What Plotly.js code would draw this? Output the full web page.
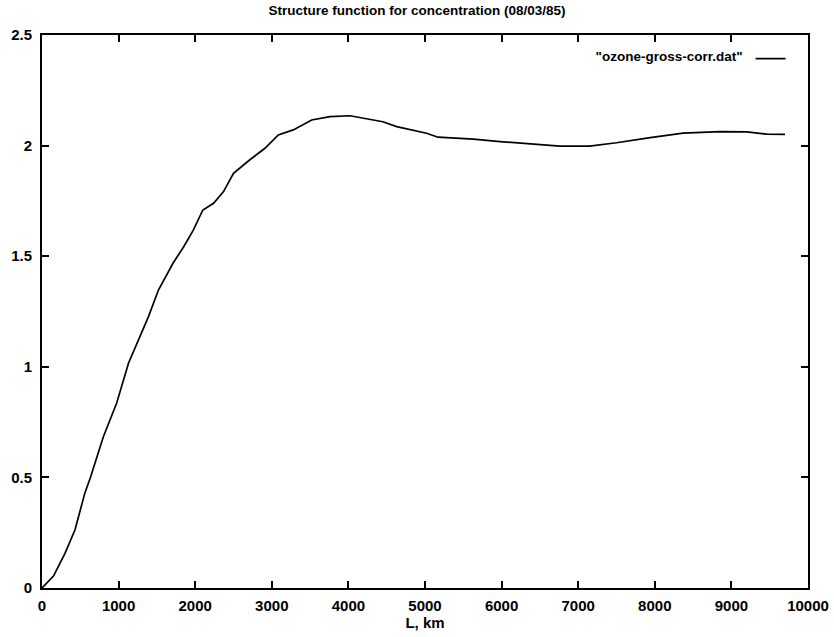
<!DOCTYPE html>
<html>
<head>
<meta charset="utf-8">
<script src="https://cdn.plot.ly/plotly-3.0.1.min.js"></script>
<style>body{margin:0;padding:0;background:#fff}#chart{width:834px;height:637px}</style>
</head>
<body>
<div id="chart"></div>
<script>
// Data
const distanceKm = [0, 150, 300, 430, 560, 630, 800, 975, 1130, 1260, 1390, 1520, 1710, 1850, 1975, 2100, 2240, 2370, 2500, 2710, 2910, 3085, 3280, 3520, 3760, 4020, 4240, 4450, 4630, 4840, 5020, 5170, 5630, 5980, 6410, 6760, 7150, 7500, 7940, 8370, 8850, 9200, 9460, 9700];
const structureFn = [0, 0.054, 0.157, 0.262, 0.43, 0.497, 0.683, 0.836, 1.017, 1.12, 1.227, 1.347, 1.468, 1.543, 1.618, 1.709, 1.739, 1.792, 1.875, 1.935, 1.988, 2.048, 2.071, 2.116, 2.131, 2.135, 2.12, 2.108, 2.086, 2.068, 2.056, 2.038, 2.029, 2.018, 2.007, 1.998, 1.998, 2.013, 2.036, 2.056, 2.063, 2.062, 2.052, 2.051];
const xTicks = [0, 1000, 2000, 3000, 4000, 5000, 6000, 7000, 8000, 9000, 10000];
const yTicks = [0, 0.5, 1, 1.5, 2, 2.5];
const seriesName = '"ozone-gross-corr.dat"';
const titleText = 'Structure function for concentration (08/03/85)';
const xTitle = 'L, km';

const fam = 'Liberation Sans, Arial, sans-serif';
const tickFont = {family: fam, size: 15, color: '#000', weight: 'bold'};
const smallFont = {family: fam, size: 13.5, color: '#000', weight: 'bold'};

const trace = {
  x: distanceKm, y: structureFn, type: 'scatter', mode: 'lines',
  name: '', line: {color: '#000', width: 1.7}, showlegend: true
};

const axisCommon = {
  showgrid: false, zeroline: false, showline: true, mirror: 'ticks',
  linecolor: '#000', linewidth: 2, ticks: 'inside', ticklen: 7, tickwidth: 2, tickcolor: '#000',
  tickfont: tickFont
};

const layout = {
  width: 834, height: 637,
  margin: {l: 42, r: 26, t: 35, b: 49},
  paper_bgcolor: '#fff', plot_bgcolor: '#fff',
  font: tickFont,
  title: {text: titleText, font: smallFont, x: 0.5, xanchor: 'center', y: 0.992, yanchor: 'top'},
  xaxis: {...axisCommon, range: [0, 10000], tickvals: xTicks, ticktext: xTicks.map(String), ticklabelstandoff: 3,
          title: {text: xTitle, font: tickFont, standoff: 0}},
  yaxis: {...axisCommon, range: [0, 2.5], tickvals: yTicks, ticktext: yTicks.map(String), ticklabelstandoff: 5},
  showlegend: true,
  legend: {x: 0.985, xanchor: 'right', y: 0.985, yanchor: 'top', bgcolor: 'rgba(0,0,0,0)',
           title: {text: seriesName, side: 'left', font: smallFont}, itemwidth: 30, font: smallFont}
};

Plotly.newPlot('chart', [trace], layout, {displayModeBar: false, staticPlot: true});
</script>
</body>
</html>
